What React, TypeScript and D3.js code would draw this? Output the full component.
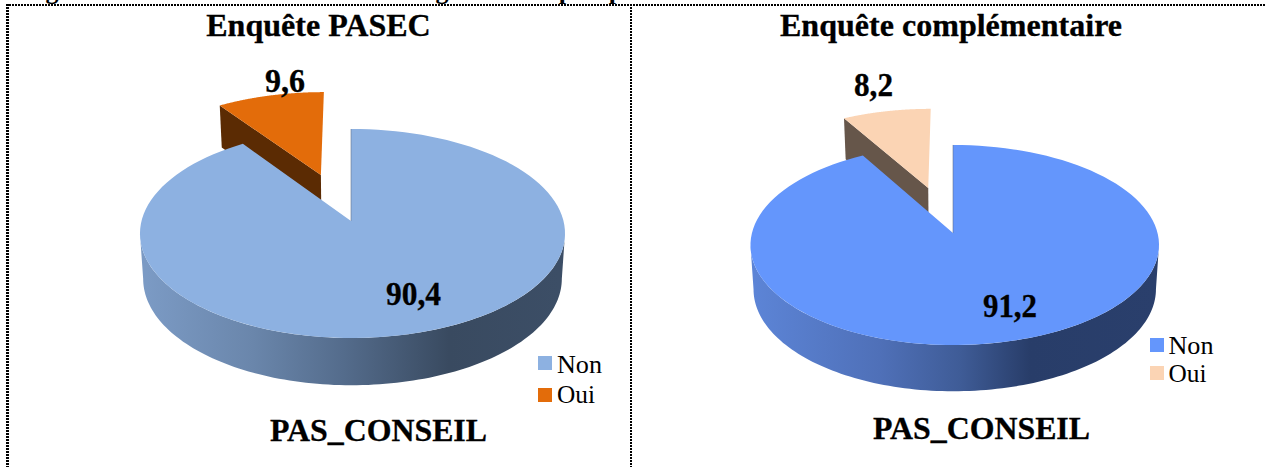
import React from "react";
import * as d3 from "d3";

const categories = ["Non", "Oui"];
const pasecValues = [90.4, 9.6];
const complementaireValues = [91.2, 8.2];
const pasecColors = ["#8DB1E1", "#E36C0A"];
const complementaireColors = ["#6496FC", "#FBD4B4"];
const titles = ["Enquête PASEC", "Enquête complémentaire"];
const axisName = "PAS_CONSEIL";
const clippedHeadingGlyphs = [
  { g: "g", x: 52 },
  { g: "g", x: 442 },
  { g: "p", x: 566 },
  { g: "p", x: 616 },
];

const W = 1266;
const H = 467;
const SERIF = "'Liberation Serif', 'Times New Roman', serif";

type Panel = {
  title: string;
  values: number[];
  colors: string[];
  ax: number; ay: number; A: number; B: number; p: number; depth: number; explode: number;
  skew: number; ouiDx: number;
  ouiSide: string;
  wallStops: [number, string][];
  titleX: number; titleW: number;
  lab: { x: number; y: number; w: number }[];
  nameX: number; nameY: number;
  legX: number; legTextX: number; legY: number[];
  legTextY: number[];
  legTextW: number[];
};

const panels: Panel[] = [
  {
    title: titles[0], values: pasecValues, colors: pasecColors,
    ax: 351, ay: 221, A: 211, B: 103, p: 0.1196, depth: 45, explode: 0.494,
    skew: 1.5, ouiDx: -0.8,
    ouiSide: "#5B2B03",
    wallStops: [[147, "#7B9AC4"], [253, "#6A86AB"], [343, "#546C8C"], [449, "#394A60"], [559, "#3C4E66"]],
    titleX: 318.5, titleW: 224.5,
    lab: [{ x: 413.5, y: 305, w: 55 }, { x: 285, y: 92, w: 40 }],
    nameX: 378.5, nameY: 441,
    legX: 538, legTextX: 557, legY: [356, 388], legTextY: [372.5, 403], legTextW: [45, 38],
  },
  {
    title: titles[1], values: complementaireValues, colors: complementaireColors,
    ax: 953, ay: 233, A: 202.8, B: 98.6, p: 0.12, depth: 44, explode: 0.5,
    skew: 1.75, ouiDx: -0.2,
    ouiSide: "#66564A",
    wallStops: [[755, "#5C84D6"], [880, "#4F70B8"], [960, "#3F5C97"], [1030, "#283D69"], [1155, "#2A3F6C"]],
    titleX: 951, titleW: 342,
    lab: [{ x: 1010, y: 317, w: 54 }, { x: 873.5, y: 96, w: 39 }],
    nameX: 981.5, nameY: 439,
    legX: 1150, legTextX: 1168.5, legY: [338, 366], legTextY: [354, 382], legTextW: [45, 38],
  },
];

function PieChart({ c, idx }: { c: Panel; idx: number }) {
  const raw = (u: number, v: number) => {
    const d = 1 - c.p * v;
    return [c.ax + (c.A * u) / d, c.ay + (c.B * v) / d];
  };
  const proj = (u: number, v: number) => {
    const [x, y] = raw(u, v);
    return [x + c.skew * Math.abs(u), y];
  };
  const lowOf = (f: (u: number, v: number) => number[]) => (u: number, v: number) => {
    const [x, y] = f(u, v);
    return [c.ax + 2 + (x - c.ax - 2) * 0.985, y + c.depth * (1 + 0.05 * v)];
  };
  const ouiProj = (u: number, v: number) => {
    const [x, y] = raw(u, v);
    return [x + c.ouiDx, y];
  };
  const low = lowOf(proj);
  const ouiLow = lowOf(ouiProj);

  // Non starts at 12 o'clock and runs clockwise, as d3.pie lays it out from the values.
  const arcs = d3.pie<number>().sort(null)(c.values);
  const rim = (a0: number, a1: number, ou = 0, ov = 0, f = proj) =>
    d3.range(0, 121).map((i) => {
      const t = a0 + ((a1 - a0) * i) / 120;
      return f(ou + Math.sin(t), ov - Math.cos(t));
    });
  const line = d3.line().curve(d3.curveLinear);

  const non = arcs[0];
  const oui = arcs[1];
  const bis = (oui.startAngle + oui.endAngle) / 2;
  const ou = c.explode * Math.sin(bis);
  const ov = -c.explode * Math.cos(bis);

  const nonFace = line([proj(0, 0), ...rim(non.startAngle, non.endAngle)]) + "Z";
  const ouiFace = line([ouiProj(ou, ov), ...rim(oui.startAngle, oui.endAngle, ou, ov, ouiProj)]) + "Z";

  // The visible wall runs between the two points where the projected rim is widest.
  const wallA0 = Math.acos(-c.p);
  const wallA1 = 2 * Math.PI - wallA0;
  const wall = line([...rim(wallA0, wallA1), ...rim(wallA0, wallA1, 0, 0, low).reverse()]) + "Z";

  const cornerU = ou + Math.sin(oui.startAngle);
  const cornerV = ov - Math.cos(oui.startAngle);
  const ouiWall = line([ouiProj(ou, ov), ouiProj(cornerU, cornerV), ouiLow(cornerU, cornerV), ouiLow(ou, ov)]) + "Z";

  const stops = c.wallStops;
  const x0 = stops[0][0];
  const x1 = stops[stops.length - 1][0];
  const gid = `wall${idx}`;
  const top = proj(0, -1);

  return (
    <g>
      <defs>
        <linearGradient id={gid} gradientUnits="userSpaceOnUse" x1={x0} x2={x1} y1={0} y2={0}>
          {stops.map(([x, col], i) => (
            <stop key={i} offset={(x - x0) / (x1 - x0)} stopColor={col} />
          ))}
        </linearGradient>
      </defs>
      <path d={ouiWall} fill={c.ouiSide} />
      <path d={ouiFace} fill={c.colors[1]} />
      <path d={wall} fill={`url(#${gid})`} />
      <path d={nonFace} fill={c.colors[0]} />
      <line x1={top[0]} y1={top[1]} x2={c.ax} y2={c.ay} stroke="#5f6f85" strokeOpacity={0.55} strokeWidth={1} />

      <text x={c.titleX} y={36} textAnchor="middle" fontFamily={SERIF} fontWeight="bold" fontSize={31}
        stroke="#000" strokeWidth={0.3} textLength={c.titleW} lengthAdjust="spacingAndGlyphs">{c.title}</text>
      {c.values.map((v, i) => (
        <text key={i} x={c.lab[i].x} y={c.lab[i].y} textAnchor="middle" fontFamily={SERIF} fontWeight="bold"
          fontSize={33} stroke="#000" strokeWidth={0.3} textLength={c.lab[i].w} lengthAdjust="spacingAndGlyphs">
          {String(v).replace(".", ",")}
        </text>
      ))}
      <text x={c.nameX} y={c.nameY} textAnchor="middle" fontFamily={SERIF} fontWeight="bold" fontSize={31}
        stroke="#000" strokeWidth={0.3} textLength={217} lengthAdjust="spacingAndGlyphs">{axisName}</text>
      {categories.map((cat, i) => (
        <g key={cat}>
          <rect x={c.legX} y={c.legY[i]} width={14} height={14} fill={c.colors[i]} />
          <text x={c.legTextX} y={c.legTextY[i]} fontFamily={SERIF} fontSize={26}
            textLength={c.legTextW[i]} lengthAdjust="spacingAndGlyphs">{cat}</text>
        </g>
      ))}
    </g>
  );
}

export default function App() {
  return (
    <svg width={W} height={H} viewBox={`0 0 ${W} ${H}`}
      style={{ position: "absolute", left: 0, top: 0, background: "#fff", display: "block" }}>
      <defs>
        <clipPath id="headingClip"><rect x={0} y={0} width={W} height={4} /></clipPath>
      </defs>
      <g clipPath="url(#headingClip)">
        {clippedHeadingGlyphs.map((h, i) => (
          <text key={i} x={h.x} y={-1} textAnchor="middle" fontFamily={SERIF} fontWeight="bold" fontSize={26}>{h.g}</text>
        ))}
      </g>
      <line x1={6} x2={W} y1={5} y2={5} stroke="#000" strokeWidth={2} strokeDasharray="2 1" />
      <line x1={7.5} x2={7.5} y1={4} y2={H} stroke="#000" strokeWidth={3} strokeDasharray="2 1" />
      <line x1={631} x2={631} y1={4} y2={H} stroke="#000" strokeWidth={2} strokeDasharray="2 1" />
      {panels.map((c, i) => <PieChart key={i} c={c} idx={i} />)}
    </svg>
  );
}
